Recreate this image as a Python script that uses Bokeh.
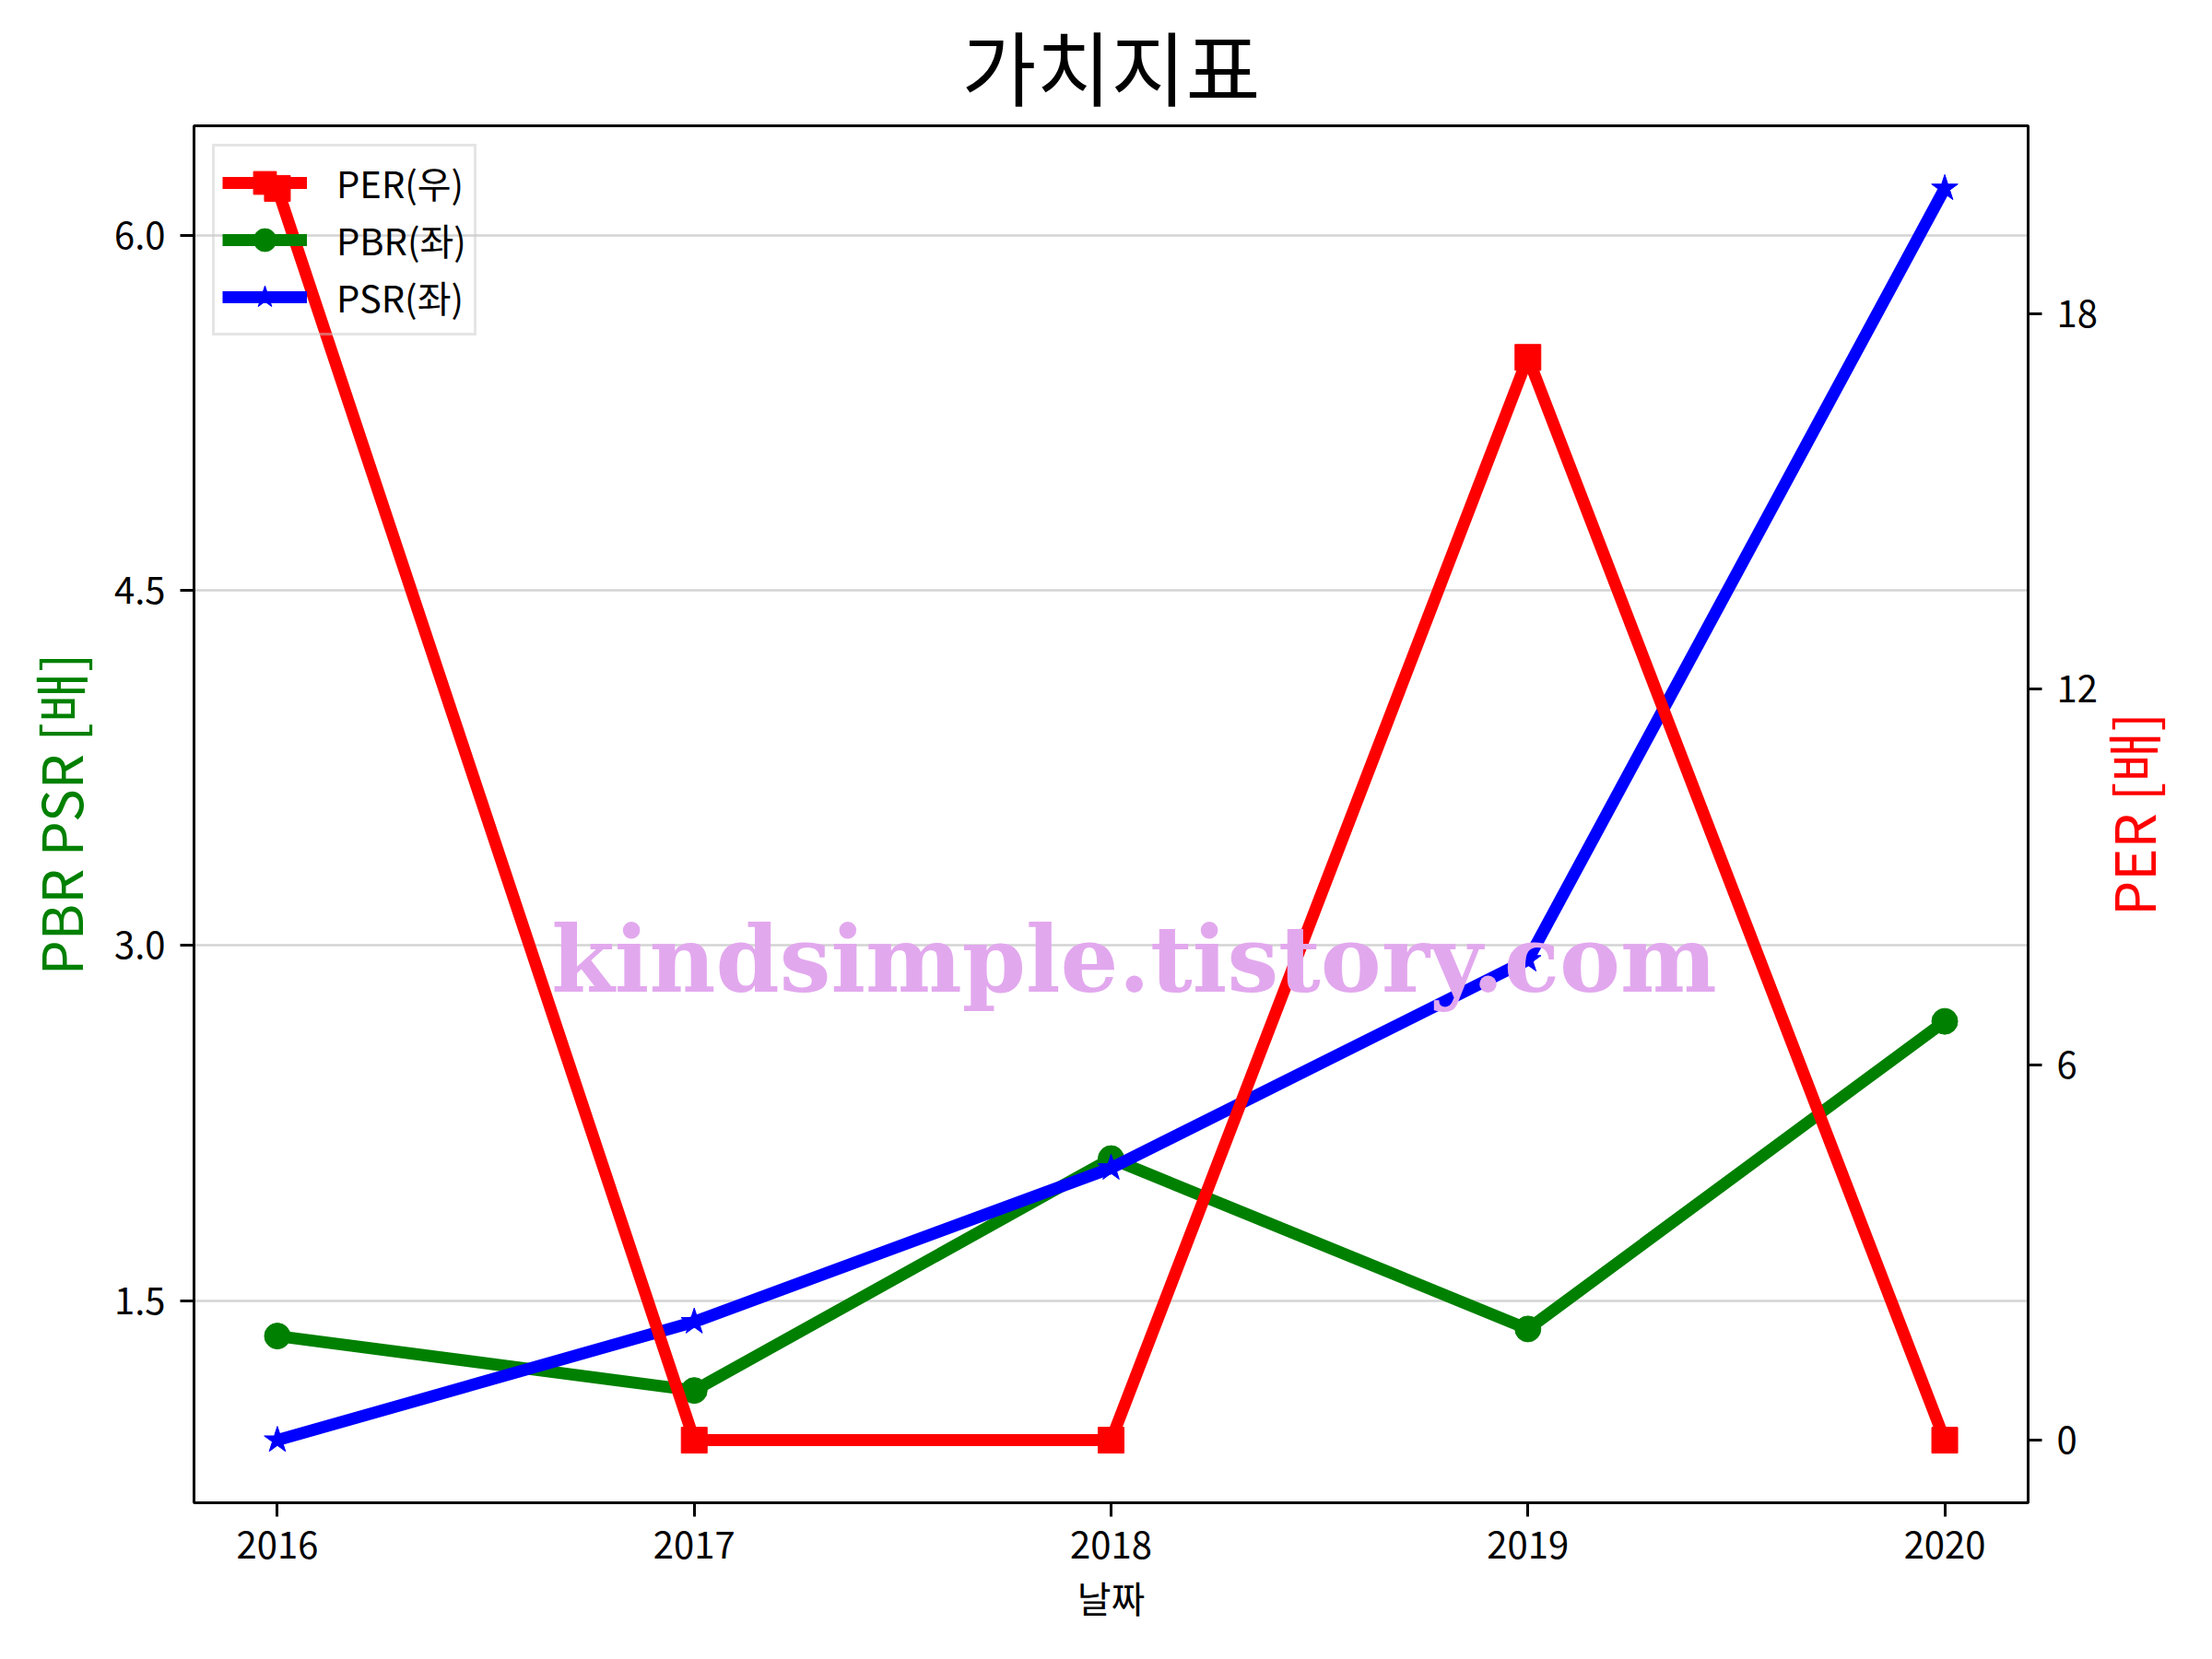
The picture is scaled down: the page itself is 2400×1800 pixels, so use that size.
import math
from bokeh.plotting import figure
from bokeh.models import (Range1d, LinearAxis, FixedTicker, PrintfTickFormatter,
                          Label, Legend, LegendItem)
from bokeh.embed import file_html
from bokeh.resources import INLINE

# ---- data ----
years = [2016, 2017, 2018, 2019, 2020]
per = [20.0, 0.0, 0.0, 17.3, 0.0]
pbr = [1.35, 1.12, 2.10, 1.38, 2.68]
psr = [0.91, 1.41, 2.06, 2.94, 6.20]
left_ticks = [1.5, 3.0, 4.5, 6.0]
right_ticks = [0, 6, 12, 18]
x_ticks = years

title_text = "가치지표"
x_label = "날짜"
left_label = "PBR PSR [배]"
right_label = "PER [배]"
legend_labels = ["PER(우)", "PBR(좌)", "PSR(좌)"]
watermark = "kindsimple.tistory.com"

FONT = "Noto Sans CJK KR"


def pad(lo, hi, m=0.05):
    s = hi - lo
    return lo - m * s, hi + m * s


xr = pad(min(years), max(years))
yl = pad(min(pbr + psr), max(pbr + psr))
yr = pad(min(per), max(per))

p = figure(frame_width=1990, frame_height=1494,
           min_border_left=210, min_border_right=184,
           min_border_top=136, min_border_bottom=154,
           x_range=Range1d(*xr), y_range=Range1d(*yl),
           output_backend="svg", toolbar_location=None, title=title_text)
p.extra_y_ranges = {"per": Range1d(*yr)}

p.title.text_font = FONT
p.title.text_font_size = "88px"
p.title.text_font_style = "normal"
p.title.align = "center"
p.title.text_color = "black"
p.title.standoff = 7

p.outline_line_color = "black"
p.outline_line_width = 3
p.background_fill_color = "white"
p.border_fill_color = "white"

p.xgrid.visible = False
p.ygrid.grid_line_color = "#d4d4d4"
p.ygrid.grid_line_width = 2.5
p.ygrid.ticker = FixedTicker(ticks=left_ticks)


def style_axis(ax):
    ax.axis_line_color = "black"
    ax.axis_line_width = 3
    ax.major_tick_line_color = "black"
    ax.major_tick_line_width = 3
    ax.major_tick_out = 15
    ax.major_tick_in = 0
    ax.minor_tick_line_color = None
    ax.major_label_text_font = FONT
    ax.major_label_text_font_size = "40px"
    ax.major_label_text_color = "black"
    ax.major_label_standoff = 16
    ax.axis_label_text_font = FONT
    ax.axis_label_text_font_style = "normal"


xa = p.xaxis[0]
style_axis(xa)
xa.ticker = FixedTicker(ticks=x_ticks)
xa.formatter = PrintfTickFormatter(format="%d")
xa.axis_label = x_label
xa.axis_label_text_font_size = "40px"
xa.axis_label_text_color = "black"
xa.axis_label_standoff = 10

ya = p.yaxis[0]
style_axis(ya)
ya.ticker = FixedTicker(ticks=left_ticks)
ya.formatter = PrintfTickFormatter(format="%.1f")
ya.axis_label = left_label
ya.axis_label_text_font_size = "60px"
ya.axis_label_text_color = "green"
ya.axis_label_standoff = 14

ra = LinearAxis(y_range_name="per", ticker=FixedTicker(ticks=right_ticks),
                formatter=PrintfTickFormatter(format="%d"))
style_axis(ra)
p.add_layout(ra, "right")

# right-hand axis title, reading bottom-to-top, in its own side panel
p.add_layout(Label(text=right_label, x=34, y=747, x_units="screen", y_units="screen",
                   angle=math.pi / 2, text_align="center", text_baseline="middle",
                   text_font=FONT, text_font_size="60px", text_color="red"), "right")

# ---- glyphs ----
g_line = p.line(years, pbr, line_color="green", line_width=13, line_join="round")
g_sc = p.scatter(years, pbr, marker="circle", size=28, fill_color="green", line_color="green")
b_line = p.line(years, psr, line_color="blue", line_width=13, line_join="round")
b_sc = p.scatter(years, psr, marker="star", size=30, fill_color="blue", line_color="blue")
r_line = p.line(years, per, y_range_name="per", line_color="red", line_width=13,
                line_join="round")
r_sc = p.scatter(years, per, y_range_name="per", marker="square", size=28,
                 fill_color="red", line_color="red")

legend = Legend(items=[
    LegendItem(label=legend_labels[0], renderers=[r_line, r_sc]),
    LegendItem(label=legend_labels[1], renderers=[g_line, g_sc]),
    LegendItem(label=legend_labels[2], renderers=[b_line, b_sc]),
], location="top_left")
legend.margin = 20
legend.padding = 8
legend.spacing = 0
legend.glyph_width = 92
legend.glyph_height = 62
legend.label_height = 40
legend.label_standoff = 32
legend.label_text_font = FONT
legend.label_text_font_size = "40px"
legend.label_text_color = "black"
legend.border_line_color = "#cccccc"
legend.border_line_width = 3
legend.background_fill_color = "white"
legend.background_fill_alpha = 0.0
p.add_layout(legend)

p.add_layout(Label(text=watermark, x=1020, y=590, x_units="screen", y_units="screen",
                   text_align="center", text_baseline="alphabetic",
                   text_font="DejaVu Serif", text_font_style="bold",
                   text_font_size="99px", text_color="#e2a8ee", level="overlay"))

open("out.html", "w").write(file_html(p, INLINE))
